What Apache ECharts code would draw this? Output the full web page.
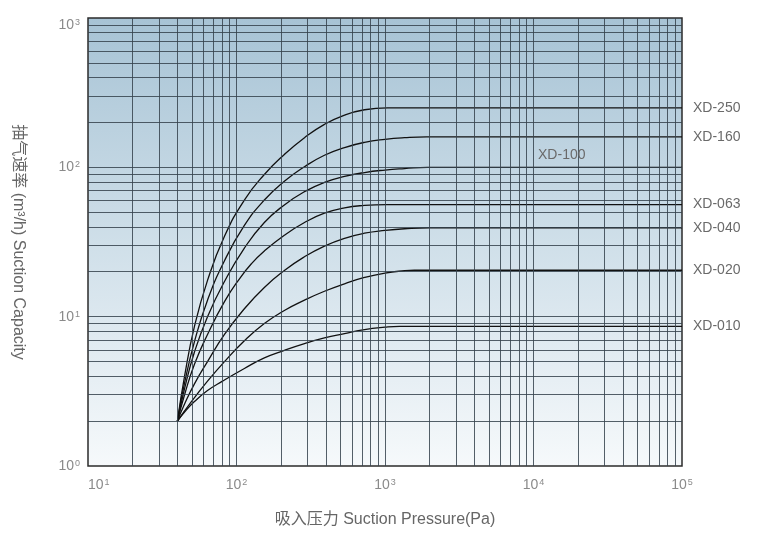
<!DOCTYPE html>
<html><head><meta charset="utf-8">
<script src="https://cdn.jsdelivr.net/npm/echarts@6/dist/echarts.min.js"></script>
<style>html,body{margin:0;padding:0;background:#fff}#c{width:764px;height:552px}</style>
</head><body><div id="c"></div>
<script>
// Axis ticks (decades) and minor grid mantissas
const xTicks = [10, 100, 1000, 10000, 100000];
const yTicks = [1, 10, 100, 1000];
const mantissas = [2, 3, 4, 5, 6, 7, 8, 9];

// Curves: [suction pressure Pa, capacity m3/h]
const xd250 = [[40,2],[44.7,4.0],[52.1,8.6],[63.8,17.5],[83,34.5],[113,60.4],[154,89.6],[210,122],[287,158],[391,194],[534,224],[728,243],[1040,250],[100000,250]];
const xd160 = [[40,2],[44.7,3.6],[52.1,6.8],[63.8,12.9],[83,23.7],[113,40.8],[154,60.4],[210,80.6],[287,101],[391,120.5],[534,135.7],[728,147],[1000,154],[1353,158],[1904,160],[100000,160]];
const xd100 = [[40,2],[44.7,3.3],[52.1,5.8],[63.8,10],[83,17.2],[113,28.8],[154,42.7],[210,56],[287,68.7],[391,79.3],[534,86.9],[728,92.3],[1000,95.9],[1353,98.1],[1933,100],[100000,100]];
const xd063 = [[40,2],[44.7,3.0],[52.1,4.8],[63.8,7.6],[83,12.6],[105,18],[126,22.6],[154,27.5],[210,35.1],[287,42.7],[391,49.3],[534,53.6],[728,55.6],[1023,56.3],[100000,56.3]];
const xd040 = [[40,2],[44.7,2.6],[52.1,3.55],[63.8,5.0],[83,7.6],[113,11.3],[154,15.7],[210,20.4],[287,25.2],[391,29.7],[534,33.5],[728,36.2],[1000,37.8],[1353,38.8],[1994,39.4],[100000,39.4]];
const xd020 = [[40,2],[48.3,2.6],[63.8,3.7],[83,5.0],[113,6.9],[154,9.0],[210,11.0],[287,12.9],[391,14.8],[534,16.6],[728,18.3],[1000,19.6],[1353,20.3],[1580,20.45],[100000,20.45]];
const xd010 = [[40,2],[44.7,2.3],[52.1,2.7],[63.8,3.2],[80.5,3.7],[113,4.5],[154,5.3],[210,5.95],[287,6.6],[391,7.2],[534,7.7],[728,8.2],[1000,8.5],[1252,8.6],[100000,8.6]];

const curveNames = ['XD-250','XD-160','XD-100','XD-063','XD-040','XD-020','XD-010'];
const curveData = [xd250, xd160, xd100, xd063, xd040, xd020, xd010];
const xd100LabelAt = [15500, 100]; // XD-100 label sits inside the plot

const labelColor = '#6a6a6a';
const gridLineColor = '#36434d';

// grid lines (minor + inner decades)
const xGrid = [];
xTicks.slice(0, -1).forEach((d, i) => {
  if (i > 0) xGrid.push(d);
  mantissas.forEach(m => xGrid.push(d * m));
});
const yGrid = [];
yTicks.slice(0, -1).forEach((d, i) => {
  if (i > 0) yGrid.push(d);
  mantissas.forEach(m => yGrid.push(d * m));
});

const chart = echarts.init(document.getElementById('c'), null, {renderer: 'canvas'});

const supFormatter = v => '{b|10}{s|' + Math.round(Math.log10(v)) + '}';
const richTick = {
  b: {fontSize: 14, color: '#8a8a8a', fontFamily: 'Liberation Sans'},
  s: {fontSize: 9, color: '#8a8a8a', fontFamily: 'Liberation Sans', verticalAlign: 'top', padding: [0, 0, 0, 1]}
};
const lblStyle = {color: labelColor, fontSize: 14, fontFamily: 'Liberation Sans'};

const series = [{
  type: 'line',
  data: [],
  silent: true,
  z: 1,
  markLine: {
    silent: true,
    symbol: 'none',
    animation: false,
    label: {show: false},
    lineStyle: {color: gridLineColor, width: 1, type: 'solid', opacity: 0.85},
    data: xGrid.map(v => ({xAxis: v})).concat(yGrid.map(v => ({yAxis: v})))
  }
}];

curveData.forEach((d, idx) => {
  const name = curveNames[idx];
  const s = {
    name: name,
    type: 'line',
    data: d,
    z: 3,
    smooth: 0.5,
    showSymbol: false,
    symbol: 'none',
    silent: true,
    lineStyle: {color: '#111', width: 1.3},
    animation: false
  };
  if (name === 'XD-100') {
    s.markPoint = {
      silent: true,
      symbol: 'circle',
      symbolSize: 1,
      itemStyle: {color: 'rgba(0,0,0,0)'},
      label: Object.assign({show: true, position: 'top', distance: 5, formatter: name}, lblStyle),
      data: [{coord: xd100LabelAt}]
    };
  } else {
    s.endLabel = Object.assign({show: true, distance: 11, formatter: name}, lblStyle);
  }
  series.push(s);
});

chart.setOption({
  animation: false,
  backgroundColor: '#fff',
  grid: {
    left: 88, right: 82, top: 18, bottom: 86,
    show: true,
    borderColor: '#2b2b2b',
    borderWidth: 1.5,
    backgroundColor: new echarts.graphic.LinearGradient(0, 0, 0, 1, [
      {offset: 0, color: '#a7c3d5'},
      {offset: 0.5, color: '#cfdfe9'},
      {offset: 1, color: '#f6f9fb'}
    ])
  },
  xAxis: {
    type: 'log', logBase: 10, min: xTicks[0], max: xTicks[xTicks.length - 1],
    axisLine: {show: false}, axisTick: {show: false}, splitLine: {show: false},
    axisLabel: {margin: 12, formatter: supFormatter, rich: richTick, alignMinLabel: 'left'},
    name: '吸入压力 Suction Pressure(Pa)',
    nameLocation: 'middle', nameGap: 46,
    nameTextStyle: {fontSize: 16, color: '#666', fontFamily: 'Liberation Sans, Noto Sans CJK SC'}
  },
  yAxis: {
    type: 'log', logBase: 10, min: yTicks[0], max: yTicks[yTicks.length - 1],
    axisLine: {show: false}, axisTick: {show: false}, splitLine: {show: false},
    axisLabel: {margin: 8, formatter: supFormatter, rich: richTick, verticalAlignMaxLabel: 'top'},
    name: '抽气速率 (m³/h) Suction Capacity',
    nameLocation: 'middle', nameGap: 62, nameRotate: -90,
    nameTextStyle: {fontSize: 16, color: '#666', fontFamily: 'Liberation Sans, Noto Sans CJK SC'}
  },
  series: series
});
</script>
</body></html>
